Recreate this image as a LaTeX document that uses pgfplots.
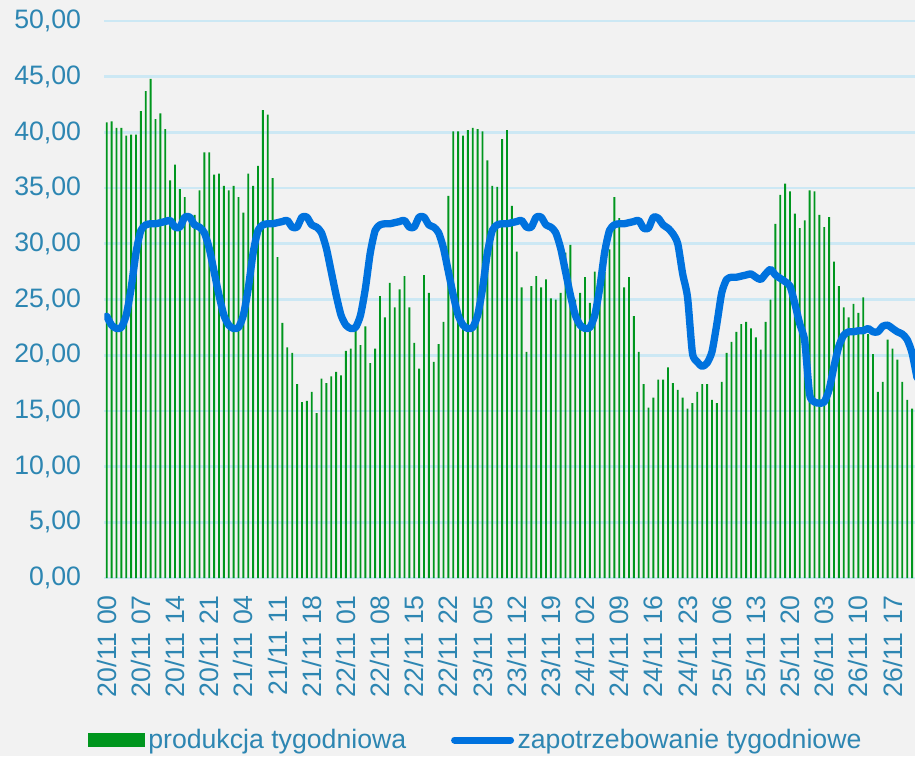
\documentclass[border=0pt]{standalone}
\usepackage{fontspec}
\setmainfont{Liberation Sans}
\usepackage{pgfplots}
\pgfplotsset{compat=1.18}
\definecolor{bg}{RGB}{242,242,242}
\definecolor{barg}{RGB}{0,150,30}
\definecolor{lineb}{RGB}{0,114,222}
\definecolor{gridc}{RGB}{204,232,244}
\definecolor{txt}{RGB}{45,134,178}
\begin{document}
\begin{tikzpicture}
\fill[bg] (-78.2pt,-133.5pt) rectangle (608pt,433.5pt);
\begin{axis}[
  at={(0,0)}, anchor=south west,
  width=608pt, height=417.75pt, scale only axis,
  xmin=-0.5, xmax=165.6, ymin=0, ymax=50,
  axis line style={draw=none},
  /pgf/number format/assume math mode=true,
  ytick={0,5,...,50},
  yticklabels={{0,00},{5,00},{10,00},{15,00},{20,00},{25,00},{30,00},{35,00},{40,00},{45,00},{50,00}},
  ymajorgrids, grid style={gridc, line width=2pt},
  major tick length=0pt,
  yticklabel shift=17.25pt,
  yticklabel style={anchor=east, inner sep=0pt, font=\fontsize{20}{24}\selectfont, text=txt},
  xtick={0,7,...,161},
  xticklabels={20/11 00,20/11 07,20/11 14,20/11 21,21/11 04,21/11 11,21/11 18,22/11 01,22/11 08,22/11 15,22/11 22,23/11 05,23/11 12,23/11 19,24/11 02,24/11 09,24/11 16,24/11 23,25/11 06,25/11 13,25/11 20,26/11 03,26/11 10,26/11 17},
  xticklabel shift=12.75pt,
  xticklabel style={rotate=90, anchor=east, inner sep=0pt, font=\fontsize{20}{24}\selectfont, text=txt},
  legend columns=2,
  legend style={at={(axis description cs:0.459,-0.2908)}, anchor=center, draw=none, fill=none, inner sep=0pt,
    font=\fontsize{20}{24}\selectfont, text=txt, column sep=0pt,
    nodes={inner xsep=2.6pt, inner ysep=0pt},
    /tikz/every even column/.append style={column sep=31pt}},
]
\addplot[ybar, bar width=1.4pt, fill=barg, draw=none,
  legend image code/.code={\fill[barg] (0pt,-4.9pt) rectangle (42.75pt,4.9pt);}]
  table[row sep=\\]{x y\\
0 40.9\\ 1 41.0\\ 2 40.4\\ 3 40.4\\ 4 39.7\\ 5 39.8\\ 6 39.8\\ 7 41.9\\ 8 43.7\\ 9 44.8\\
10 41.2\\ 11 41.7\\ 12 40.3\\ 13 35.7\\ 14 37.1\\ 15 34.9\\ 16 34.2\\ 17 32.5\\ 18 32.6\\ 19 34.8\\
20 38.2\\ 21 38.2\\ 22 36.2\\ 23 36.3\\ 24 35.2\\ 25 34.8\\ 26 35.2\\ 27 34.2\\ 28 32.8\\ 29 36.3\\
30 35.2\\ 31 37.0\\ 32 42.0\\ 33 41.6\\ 34 35.9\\ 35 28.8\\ 36 22.9\\ 37 20.7\\ 38 20.2\\ 39 17.4\\
40 15.8\\ 41 15.9\\ 42 16.7\\ 43 14.8\\ 44 17.9\\ 45 17.5\\ 46 18.1\\ 47 18.5\\ 48 18.2\\ 49 20.4\\
50 20.6\\ 51 22.2\\ 52 20.9\\ 53 22.6\\ 54 19.3\\ 55 20.6\\ 56 25.3\\ 57 23.4\\ 58 26.5\\ 59 24.3\\
60 25.9\\ 61 27.1\\ 62 24.3\\ 63 21.1\\ 64 18.8\\ 65 27.2\\ 66 25.6\\ 67 19.4\\ 68 21.0\\ 69 23.0\\
70 34.3\\ 71 40.1\\ 72 40.1\\ 73 39.7\\ 74 40.2\\ 75 40.4\\ 76 40.3\\ 77 40.1\\ 78 37.5\\ 79 35.2\\
80 35.1\\ 81 39.4\\ 82 40.2\\ 83 33.4\\ 84 29.3\\ 85 26.1\\ 86 20.3\\ 87 26.2\\ 88 27.1\\ 89 26.1\\
90 26.8\\ 91 25.1\\ 92 25.0\\ 93 25.6\\ 94 29.2\\ 95 29.9\\ 96 25.0\\ 97 25.6\\ 98 27.0\\ 99 24.7\\
100 27.5\\ 101 25.5\\ 102 27.5\\ 103 29.5\\ 104 34.2\\ 105 32.3\\ 106 26.1\\ 107 27.0\\ 108 23.5\\ 109 20.3\\
110 17.4\\ 111 15.3\\ 112 16.2\\ 113 17.8\\ 114 17.8\\ 115 18.9\\ 116 17.5\\ 117 16.9\\ 118 16.2\\ 119 15.2\\
120 15.7\\ 121 16.7\\ 122 17.4\\ 123 17.4\\ 124 16.0\\ 125 15.7\\ 126 17.6\\ 127 20.2\\ 128 21.2\\ 129 22.1\\
130 22.8\\ 131 23.0\\ 132 22.4\\ 133 21.6\\ 134 20.5\\ 135 23.0\\ 136 25.0\\ 137 31.8\\ 138 34.4\\ 139 35.4\\
140 34.7\\ 141 32.7\\ 142 31.4\\ 143 32.1\\ 144 34.8\\ 145 34.7\\ 146 32.6\\ 147 31.5\\ 148 32.4\\ 149 28.4\\
150 26.2\\ 151 24.3\\ 152 23.4\\ 153 24.6\\ 154 23.8\\ 155 25.2\\ 156 21.9\\ 157 20.1\\ 158 16.7\\ 159 17.6\\
160 21.4\\ 161 20.6\\ 162 19.6\\ 163 17.6\\ 164 16.0\\ 165 15.2\\
};
\addlegendentry{produkcja tygodniowa}
\addplot[lineb, line width=5.5pt, line join=round, line cap=round, smooth, tension=0.4,
  legend image code/.code={\draw[lineb, line width=5.25pt, line cap=round] (0pt,0pt) -- (42pt,0pt);}]
  table[row sep=\\]{x y\\
0 23.5\\ 1 22.7\\ 2 22.4\\ 3 22.5\\ 4 23.6\\ 5 26.0\\ 6 29.2\\ 7 31.2\\ 8 31.7\\ 9 31.8\\
10 31.8\\ 11 31.9\\ 12 32.0\\ 13 32.1\\ 14 31.5\\ 15 31.5\\ 16 32.4\\ 17 32.4\\ 18 31.7\\ 19 31.5\\
20 31.0\\ 21 29.6\\ 22 27.5\\ 23 25.4\\
24 23.6\\ 25 22.7\\ 26 22.4\\ 27 22.5\\ 28 23.6\\ 29 26.0\\ 30 29.2\\ 31 31.2\\ 32 31.7\\ 33 31.8\\
34 31.8\\ 35 31.9\\ 36 32.0\\ 37 32.1\\ 38 31.5\\ 39 31.5\\ 40 32.4\\ 41 32.4\\ 42 31.7\\ 43 31.5\\
44 31.0\\ 45 29.6\\ 46 27.5\\ 47 25.4\\
48 23.6\\ 49 22.7\\ 50 22.4\\ 51 22.5\\ 52 23.6\\ 53 26.0\\ 54 29.2\\ 55 31.2\\ 56 31.7\\ 57 31.8\\
58 31.8\\ 59 31.9\\ 60 32.0\\ 61 32.1\\ 62 31.5\\ 63 31.5\\ 64 32.4\\ 65 32.4\\ 66 31.7\\ 67 31.5\\
68 31.0\\ 69 29.6\\ 70 27.5\\ 71 25.4\\
72 23.6\\ 73 22.7\\ 74 22.4\\ 75 22.5\\ 76 23.6\\ 77 26.0\\ 78 29.2\\ 79 31.2\\ 80 31.7\\ 81 31.8\\
82 31.8\\ 83 31.9\\ 84 32.0\\ 85 32.1\\ 86 31.5\\ 87 31.5\\ 88 32.4\\ 89 32.4\\ 90 31.7\\ 91 31.5\\
92 31.0\\ 93 29.6\\ 94 27.5\\ 95 25.4\\
96 23.6\\ 97 22.7\\ 98 22.4\\ 99 22.5\\ 100 23.6\\ 101 26.0\\ 102 29.2\\ 103 31.2\\ 104 31.7\\ 105 31.8\\
106 31.8\\ 107 31.9\\ 108 32.0\\ 109 32.1\\ 110 31.4\\ 111 31.4\\ 112 32.4\\ 113 32.3\\ 114 31.7\\ 115 31.4\\
116 30.9\\ 117 30.0\\ 118 27.3\\ 119 25.2\\
120 20.2\\ 121 19.4\\ 122 19.0\\ 123 19.3\\ 124 20.3\\ 125 22.8\\ 126 25.6\\ 127 26.8\\ 128 27.0\\ 129 27.0\\
130 27.1\\ 131 27.2\\ 132 27.3\\ 133 27.0\\ 134 26.8\\ 135 27.3\\ 136 27.7\\ 137 27.2\\ 138 26.9\\ 139 26.6\\
140 26.2\\ 141 24.6\\ 142 22.8\\ 143 21.3\\
144 16.5\\ 145 15.8\\ 146 15.7\\ 147 15.8\\ 148 16.9\\ 149 19.0\\ 150 20.8\\ 151 21.8\\ 152 22.1\\ 153 22.1\\
154 22.2\\ 155 22.2\\ 156 22.4\\ 157 22.1\\ 158 22.1\\ 159 22.6\\ 160 22.7\\ 161 22.4\\ 162 22.1\\ 163 21.9\\
164 21.4\\ 165 20.2\\ 166 18.0\\
};
\addlegendentry{zapotrzebowanie tygodniowe}
\end{axis}
\pgfresetboundingbox
\path[use as bounding box] (-78.2pt,-133.5pt) rectangle (608pt,433.5pt);
\end{tikzpicture}
\end{document}
